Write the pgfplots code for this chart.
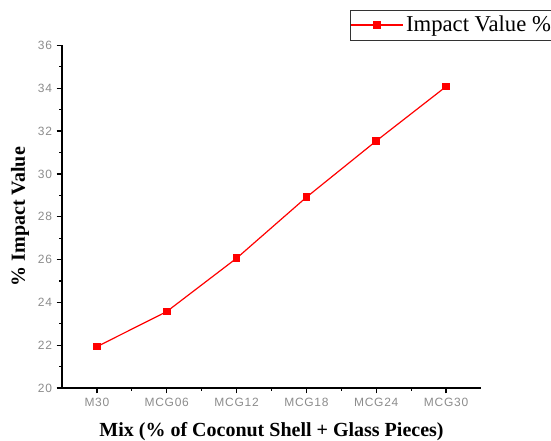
\documentclass[border=0pt]{standalone}
\usepackage{pgfplots}
\pgfplotsset{compat=1.18}
\usepackage{fontspec}
\setmainfont{Liberation Serif}
\newfontfamily\arialfont[LetterSpace=6]{Liberation Sans}
\definecolor{tickgray}{HTML}{8C8C8C}
\begin{document}
\begin{tikzpicture}
\begin{axis}[
  at={(0,0)}, anchor=south west,
  scale only axis,
  width=314.25pt, height=256.9pt,
  xmin=-0.5, xmax=5.5,
  ymin=20, ymax=36,
  axis x line*=bottom, axis y line*=left,
  axis line style={line width=1pt, -},
  xtick={0,1,2,3,4,5},
  xticklabels={M30,MCG06,MCG12,MCG18,MCG24,MCG30},
  minor xtick={0.5,1.5,2.5,3.5,4.5},
  ytick={20,22,...,36},
  minor ytick={21,23,...,35},
  tick align=outside,
  major tick length=4pt,
  minor tick length=2.2pt,
  tick style={line width=0.9pt, black},
  ticklabel style={font=\arialfont\fontsize{9}{10}\selectfont, text=tickgray},
  /pgf/number format/assume math mode=true,
  xlabel={\bfseries Mix (\% of Coconut Shell + Glass Pieces)},
  ylabel={\bfseries \% Impact Value},
  label style={font=\fontsize{15}{17}\selectfont},
  xlabel style={at={(axis description cs:0.5,0)}, anchor=center, yshift=-33pt},
  ylabel style={at={(axis description cs:0,0.5)}, anchor=center, yshift=31.5pt},
  legend style={at={(axis description cs:0.687,1.1036)}, anchor=north west,
    draw=black!80, font=\fontsize{17}{19}\selectfont,
    inner xsep=0pt, inner ysep=2.5pt, row sep=0pt},
  legend cell align=left,
  legend image code/.code={
    \draw[mark repeat=2, mark phase=2, #1, line width=1pt]
      plot coordinates {(0pt,0pt) (19.5pt,0pt) (39pt,0pt)};
  },
]
\addplot[red, line width=0.9pt, mark=square*, mark size=2.4pt, mark options={fill=red, solid}]
  coordinates {(0,21.93) (1,23.57) (2,26.06) (3,28.91) (4,31.54) (5,34.08)};
\addlegendentry{Impact Value \%\hspace{10pt}}
\end{axis}
\pgfresetboundingbox
\path (-46.5pt,-39.75pt) rectangle (366.75pt,291pt);
\end{tikzpicture}
\end{document}
